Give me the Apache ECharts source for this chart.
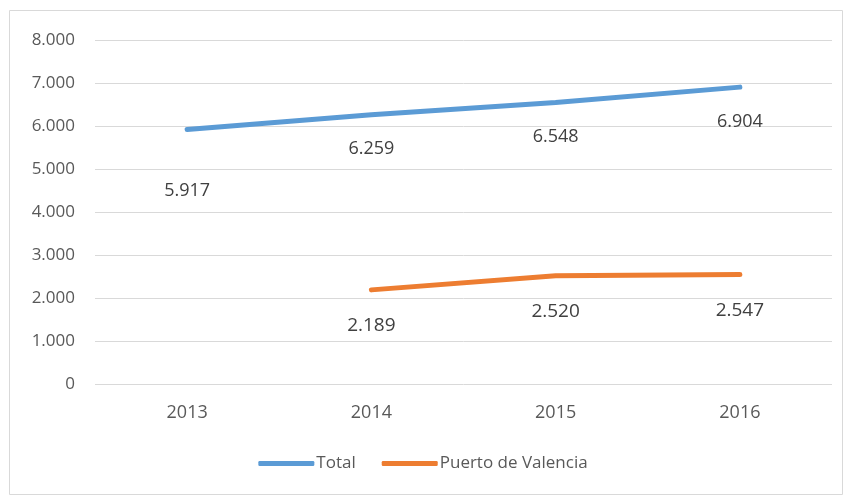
<!DOCTYPE html>
<html>
<head>
<meta charset="utf-8">
<script src="https://cdn.jsdelivr.net/npm/echarts@6/dist/echarts.min.js"></script>
<style>
  html, body { margin: 0; padding: 0; background: #fff; }
  #chart { width: 846px; height: 497px; }
</style>
</head>
<body>
<div id="chart"></div>
<script>
var years = ['2013', '2014', '2015', '2016']
var total = [5917, 6259, 6548, 6904]
var valencia = [null, 2189, 2520, 2547]
var yMin = 0
var yMax = 8000
var yStep = 1000

// formato español: 5.917
function fmt (v) {
  return String(v).replace(/\B(?=(\d{3})+(?!\d))/g, '.')
}

var font = '"Open Sans", "Noto Sans", sans-serif'
var chart = echarts.init(document.getElementById('chart'))

chart.setOption({
  animation: false,
  textStyle: { fontFamily: font },
  graphic: [{
    type: 'rect',
    shape: { x: 9.5, y: 10.5, width: 833, height: 484 },
    style: { fill: 'none', stroke: '#d9d9d9', lineWidth: 1 }
  }],
  grid: { left: 95, right: 14, top: 40, bottom: 113 },
  legend: {
    bottom: 20,
    itemWidth: 56,
    itemHeight: 5,
    itemGap: 26,
    icon: 'roundRect',
    textStyle: { color: '#595959', fontSize: 17, fontFamily: font, padding: [0, 0, 0, -3] },
    data: ['Total', 'Puerto de Valencia']
  },
  xAxis: {
    type: 'category',
    data: years,
    axisLine: { show: false },
    axisTick: { show: false },
    axisLabel: { color: '#595959', fontSize: 18, margin: 20 }
  },
  yAxis: {
    type: 'value',
    min: yMin,
    max: yMax,
    interval: yStep,
    axisLine: { show: false },
    axisTick: { show: false },
    splitLine: { lineStyle: { color: '#d9d9d9', width: 1 } },
    axisLabel: {
      color: '#595959',
      fontSize: 17,
      margin: 20,
      formatter: fmt
    }
  },
  series: [{
    name: 'Total',
    type: 'line',
    data: total.map(function (v, i) {
      return i === 0 ? { value: v, label: { offset: [0, 27] } } : v
    }),
    symbol: 'circle',
    symbolSize: 1,
    showSymbol: true,
    lineStyle: { color: '#5b9bd5', width: 5, cap: 'round' },
    itemStyle: { color: '#5b9bd5' },
    label: {
      show: true,
      position: 'bottom',
      distance: 25,
      color: '#404040',
      fontSize: 18,
      formatter: function (p) { return fmt(p.value) }
    }
  }, {
    name: 'Puerto de Valencia',
    type: 'line',
    data: valencia,
    symbol: 'circle',
    symbolSize: 1,
    showSymbol: true,
    lineStyle: { color: '#ed7d31', width: 5, cap: 'round' },
    itemStyle: { color: '#ed7d31' },
    label: {
      show: true,
      position: 'bottom',
      distance: 26,
      color: '#404040',
      fontSize: 19,
      formatter: function (p) { return fmt(p.value) }
    }
  }]
})
</script>
</body>
</html>
